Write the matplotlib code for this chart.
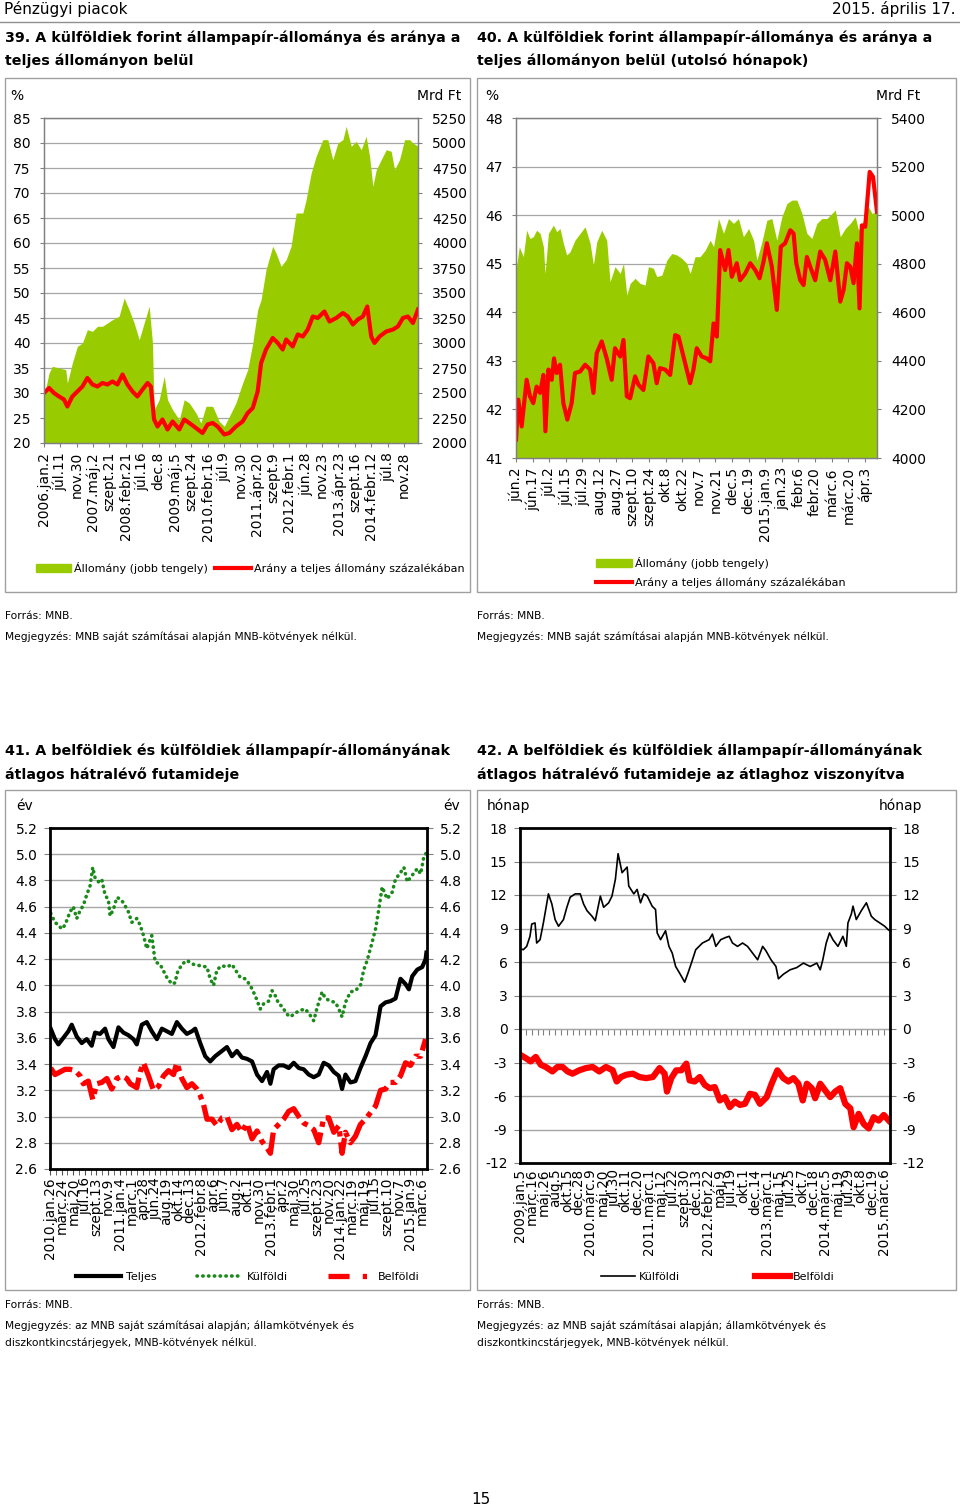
import numpy as np
import matplotlib
matplotlib.use("Agg")
import matplotlib.pyplot as plt
from matplotlib.patches import Rectangle, Patch
from matplotlib.lines import Line2D

plt.rcParams['font.family'] = ['DejaVu Sans']
plt.rcParams['axes.unicode_minus'] = False

GREEN = '#99cc00'
RED = '#ff0000'
DGREEN = '#1a8a1a'
GRID = '#a6a6a6'
TICK = '#808080'
DOM_DASH = (0, (5, 1.1, 1, 1.1))

# ---- chart 39: stock (Mrd Ft, right axis) and share (%, left axis), 2006-2015
labels39 = ['2006.jan.2', 'júl.11', 'nov.30', '2007.máj.2', 'szept.21', '2008.febr.21',
            'júl.16', 'dec.8', '2009.máj.5', 'szept.24', '2010.febr.16', 'júl.9', 'nov.30',
            '2011.ápr.20', 'szept.9', '2012.febr.1', 'jún.28', 'nov.23', '2013.ápr.23',
            'szept.16', '2014.febr.12', 'júl.8', 'nov.28']
x39_stock = [0, 0.31, 0.51, 0.92, 1.33, 1.43, 1.73, 2.04, 2.35, 2.65, 2.96, 3.27, 3.57, 3.88,
             4.18, 4.59, 4.90, 5.20, 5.51, 5.82, 6.12, 6.43, 6.63, 6.73, 7.04, 7.35, 7.55, 7.86,
             8.27, 8.57, 8.88, 9.29, 9.59, 9.90, 10.31, 10.71, 11.02, 11.33, 11.73, 12.14, 12.45,
             12.76, 13.06, 13.27, 13.57, 13.98, 14.18, 14.49, 14.80, 15.10, 15.41, 15.82, 16.02,
             16.33, 16.63, 17.04, 17.35, 17.65, 17.96, 18.27, 18.47, 18.78, 19.08, 19.39, 19.69,
             19.90, 20.10, 20.31, 20.61, 20.92, 21.22, 21.43, 21.73, 22.04, 22.35, 22.55, 22.86]
stock39 = [2467, 2700, 2767, 2750, 2733, 2600, 2800, 2967, 3000, 3133, 3117, 3167, 3167, 3200,
           3233, 3267, 3450, 3333, 3200, 3033, 3200, 3367, 3000, 2333, 2433, 2667, 2433, 2333,
           2233, 2433, 2400, 2300, 2200, 2367, 2367, 2217, 2167, 2267, 2400, 2600, 2733,
           3000, 3333, 3433, 3733, 3967, 3900, 3767, 3833, 3967, 4300, 4300, 4433,
           4700, 4867, 5033, 5033, 4833, 5000, 5033, 5167, 4967, 5017, 4933, 5067,
           4867, 4567, 4733, 4833, 4933, 4917, 4733, 4833, 5033, 5033, 5000, 4967]
x39_share = [0, 0.31, 0.61, 0.92, 1.22, 1.43, 1.73, 2.04, 2.35, 2.65, 2.96, 3.27, 3.57, 3.88,
             4.18, 4.49, 4.80, 5.10, 5.41, 5.71, 6.02, 6.33, 6.53, 6.73, 6.94, 7.24, 7.55, 7.86,
             8.27, 8.57, 8.88, 9.29, 9.69, 10.00, 10.31, 10.61, 11.02, 11.33, 11.73, 12.14, 12.45,
             12.76, 13.06, 13.27, 13.57, 13.98, 14.29, 14.59, 14.80, 15.20, 15.51, 15.82, 16.12,
             16.43, 16.73, 17.14, 17.45, 17.86, 18.27, 18.57, 18.88, 19.18, 19.49, 19.76, 20.00,
             20.20, 20.51, 20.92, 21.33, 21.63, 21.94, 22.24, 22.55, 22.86]
share39 = [30.0, 31.0, 30.0, 29.3, 28.7, 27.3, 29.3, 30.3, 31.3, 33.0, 31.7, 31.3, 32.0, 31.7,
           32.3, 31.7, 33.7, 31.7, 30.3, 29.3, 30.7, 32.0, 31.3, 24.7, 23.3, 24.7, 22.7, 24.3,
           22.7, 24.7, 24.0, 23.0, 22.0, 23.7, 24.0, 23.3, 21.7, 22.0, 23.3, 24.3, 26.0,
           27.0, 30.3, 36.0, 38.7, 41.0, 40.0, 38.7, 40.7, 39.3, 41.7, 41.3, 42.7,
           45.3, 45.0, 46.3, 44.3, 45.0, 46.0, 45.3, 43.7, 44.7, 45.3, 47.3, 41.3,
           40.0, 41.3, 42.3, 42.7, 43.3, 45.0, 45.3, 44.0, 46.7]

# ---- chart 40: last months, 2014 jun - 2015 apr
labels40 = ['jún.2', 'jún.17', 'júl.2', 'júl.15', 'júl.29', 'aug.12', 'aug.27', 'szept.10',
            'szept.24', 'okt.8', 'okt.22', 'nov.7', 'nov.21', 'dec.5', 'dec.19', '2015.jan.9',
            'jan.23', 'febr.6', 'febr.20', 'márc.6', 'márc.20', 'ápr.3']
x40_stock = [0, 0.20, 0.44, 0.64, 0.84, 1.04, 1.24, 1.45, 1.65, 1.75, 1.95, 2.25, 2.45, 2.65,
             2.85, 3.05, 3.25, 3.55, 3.86, 4.16, 4.46, 4.66, 4.86, 5.16, 5.46, 5.66, 5.96, 6.27,
             6.47, 6.67, 6.87, 7.17, 7.47, 7.77, 7.97, 8.27, 8.47, 8.78, 9.08, 9.38, 9.68, 9.98,
             10.28, 10.48, 10.78, 11.08, 11.39, 11.69, 11.89, 12.19, 12.49, 12.79, 13.09, 13.39,
             13.69, 14.00, 14.30, 14.50, 14.80, 15.10, 15.40, 15.70, 16.00, 16.31, 16.61, 16.91,
             17.21, 17.51, 17.81, 18.11, 18.41, 18.71, 18.92, 19.22, 19.52, 19.82, 20.12, 20.42,
             20.62, 20.92, 21.22, 21.43, 21.73]
stock40 = [4774, 4870, 4829, 4938, 4904, 4911, 4938, 4925, 4870, 4760, 4925, 4959, 4932, 4945,
           4884, 4836, 4849, 4897, 4925, 4952, 4884, 4795, 4890, 4938, 4897, 4726, 4788, 4760,
           4801, 4671, 4719, 4740, 4719, 4712, 4788, 4781, 4747, 4753, 4815, 4842, 4836, 4822,
           4801, 4760, 4829, 4829, 4856, 4897, 4870, 4986, 4925, 4986, 4966, 4986,
           4911, 4945, 4897, 4815, 4890, 4979, 4986, 4897, 4993, 5048, 5062, 5062,
           5007, 4925, 4904, 4966, 4986, 4986, 5000, 5021, 4911, 4945, 4966, 4993,
           4938, 4979, 5034, 5007, 5014]
x40_share = [0, 0.14, 0.34, 0.64, 0.84, 1.04, 1.24, 1.45, 1.65, 1.77, 1.95, 2.15, 2.29, 2.45,
             2.65, 2.85, 3.09, 3.35, 3.55, 3.86, 4.16, 4.46, 4.66, 4.86, 5.16, 5.46, 5.76, 5.96,
             6.27, 6.47, 6.67, 6.87, 7.17, 7.37, 7.67, 7.97, 8.27, 8.47, 8.67, 8.98, 9.28, 9.58,
             9.78, 10.08, 10.48, 10.68, 10.88, 11.18, 11.49, 11.69, 11.89, 12.09, 12.29, 12.59,
             12.79, 12.99, 13.29, 13.49, 13.80, 14.10, 14.40, 14.66, 14.90, 15.10, 15.40, 15.70,
             15.94, 16.20, 16.51, 16.71, 16.87, 17.11, 17.31, 17.51, 17.71, 18.01, 18.31, 18.61,
             18.92, 19.22, 19.52, 19.72, 19.92, 20.12, 20.32, 20.52, 20.68, 20.82, 21.02, 21.29,
             21.49, 21.73]
share40 = [41.38, 42.20, 41.65, 42.61, 42.27, 42.13, 42.47, 42.34, 42.71, 41.55, 42.82, 42.61,
           43.05, 42.75, 42.92, 42.13, 41.79, 42.13, 42.75, 42.78, 42.92, 42.82, 42.34, 43.16,
           43.40, 43.05, 42.61, 43.26, 43.09, 43.43, 42.27, 42.23, 42.68, 42.51, 42.40, 43.09,
           42.95, 42.54, 42.85, 42.82, 42.71, 43.53, 43.50, 43.09, 42.54, 42.82, 43.26, 43.09,
           43.05, 42.99, 43.77, 43.50, 45.28, 44.87, 45.28, 44.73, 45.01, 44.66, 44.80, 45.01,
           44.87, 44.70, 45.04, 45.42, 44.94, 44.05, 45.35, 45.42, 45.69, 45.62, 45.01, 44.66,
           44.56, 45.14, 44.94, 44.66, 45.25, 45.08, 44.66, 45.25, 44.22, 44.46, 45.01, 44.94,
           44.60, 45.42, 44.08, 45.79, 45.76, 46.89, 46.79, 46.07]

# ---- chart 41: average remaining maturity (years), 2010-2015
labels41 = ['2010.jan.26', 'márc.24', 'máj.20', 'júl.16', 'szept.13', 'nov.9', '2011.jan.4',
            'márc.1', 'ápr.28', 'jún.24', 'aug.19', 'okt.14', 'dec.13', '2012.febr.8', 'ápr.6',
            'jún.7', 'aug.2', 'okt.1', 'nov.30', '2013.febr.1', 'ápr.2', 'máj.30', 'júl.25',
            'szept.23', 'nov.20', '2014.jan.22', 'márc.19', 'máj.19', 'júl.15', 'szept.10',
            'nov.7', '2015.jan.9', 'márc.6']
x41_total = [0.06, 0.43, 0.72, 1.15, 1.58, 1.87, 2.30, 2.73, 3.16, 3.59, 3.88, 4.31, 4.74, 5.03,
             5.46, 5.89, 6.32, 6.75, 7.18, 7.47, 7.90, 8.33, 8.76, 9.20, 9.63, 10.06, 10.49,
             10.92, 11.35, 11.78, 12.21, 12.50, 12.93, 13.36, 13.79, 14.22, 14.80, 15.23, 15.66,
             16.09, 16.52, 16.95, 17.39, 17.82, 18.25, 18.68, 18.97, 19.25, 19.68, 20.11, 20.55,
             20.98, 21.41, 21.84, 22.27, 22.70, 23.13, 23.56, 23.99, 24.43, 24.86, 25.14, 25.43,
             25.86, 26.29, 26.72, 27.16, 27.59, 28.02, 28.45, 28.88, 29.31, 29.74, 30.17, 30.60,
             30.89, 31.18, 31.61, 32.04, 32.33, 32.40]
total41 = [3.67, 3.59, 3.55, 3.60, 3.65, 3.70, 3.61, 3.56, 3.59, 3.54, 3.64, 3.63, 3.67, 3.59,
           3.53, 3.68, 3.64, 3.62, 3.59, 3.55, 3.70, 3.72, 3.65, 3.59, 3.67, 3.65, 3.63,
           3.72, 3.67, 3.63, 3.65, 3.67, 3.56, 3.46, 3.42, 3.46, 3.50, 3.53, 3.46,
           3.50, 3.45, 3.44, 3.42, 3.32, 3.27, 3.34, 3.25, 3.36, 3.39, 3.39, 3.37,
           3.41, 3.37, 3.36, 3.32, 3.30, 3.32, 3.41, 3.39, 3.34, 3.31, 3.21, 3.32,
           3.26, 3.27, 3.37, 3.46, 3.56, 3.62, 3.84, 3.87, 3.88, 3.90, 4.05, 4.01,
           3.97, 4.07, 4.12, 4.14, 4.20, 4.25]
x41_foreign = [0.06, 0.43, 0.72, 1.01, 1.29, 1.72, 2.01, 2.30, 2.59, 2.87, 3.16, 3.45, 3.68,
               3.88, 4.17, 4.45, 4.74, 5.03, 5.17, 5.46, 5.75, 6.03, 6.32, 6.75, 7.04, 7.47,
               7.76, 8.05, 8.33, 8.76, 9.05, 9.48, 10.06, 10.49, 10.78, 10.92, 11.35, 11.78,
               12.36, 12.93, 13.51, 13.79, 14.08, 14.37, 14.80, 15.23, 15.66, 16.09, 16.38,
               16.81, 17.24, 17.67, 18.10, 18.39, 18.82, 19.11, 19.40, 19.68, 19.97, 20.40,
               20.69, 21.12, 21.55, 21.98, 22.41, 22.70, 22.99, 23.42, 23.71, 24.14, 24.57,
               24.86, 25.14, 25.43, 25.86, 26.29, 26.72, 27.01, 27.30, 27.73, 28.02, 28.30,
               28.59, 29.02, 29.45, 29.74, 30.17, 30.46, 30.75, 31.18, 31.61, 31.90, 32.18, 32.39]
foreign41 = [4.55, 4.48, 4.46, 4.43, 4.46, 4.56, 4.60, 4.51, 4.57, 4.61, 4.69, 4.76, 4.90,
             4.82, 4.79, 4.81, 4.69, 4.65, 4.53, 4.58, 4.67, 4.66, 4.63, 4.56, 4.48, 4.51,
             4.46, 4.38, 4.28, 4.38, 4.18, 4.16, 4.06, 4.01, 4.02, 4.09, 4.16, 4.19,
             4.16, 4.15, 4.14, 4.05, 4.00, 4.12, 4.15, 4.14, 4.16, 4.10, 4.06,
             4.05, 4.00, 3.92, 3.82, 3.86, 3.88, 3.96, 3.92, 3.86, 3.84, 3.78,
             3.76, 3.79, 3.81, 3.82, 3.77, 3.73, 3.83, 3.95, 3.90, 3.88, 3.87,
             3.82, 3.76, 3.87, 3.95, 3.96, 4.00, 4.12, 4.19, 4.33, 4.43, 4.58,
             4.75, 4.66, 4.71, 4.81, 4.86, 4.90, 4.79, 4.84, 4.89, 4.85, 4.98, 5.01]
x41_domestic = [0.06, 0.43, 0.86, 1.29, 1.72, 2.16, 2.59, 2.87, 3.30, 3.68, 4.02, 4.45, 4.89,
                5.32, 5.75, 6.18, 6.61, 6.90, 7.47, 7.76, 8.05, 8.48, 8.91, 9.34, 9.77, 10.20,
                10.63, 10.92, 11.35, 11.78, 12.21, 12.64, 12.93, 13.22, 13.51, 13.94, 14.37,
                14.80, 15.23, 15.66, 16.09, 16.52, 16.95, 17.39, 17.82, 18.25, 18.68, 18.97,
                19.25, 19.68, 20.11, 20.55, 20.98, 21.41, 21.84, 22.27, 22.70, 23.13, 23.56,
                23.99, 24.43, 24.86, 25.14, 25.43, 25.86, 26.29, 26.72, 27.16, 27.59, 28.02,
                28.45, 28.88, 29.31, 29.74, 30.17, 30.60, 31.03, 31.47, 31.90, 32.33]
domestic41 = [3.37, 3.32, 3.34, 3.36, 3.36, 3.35, 3.31, 3.25, 3.27, 3.13, 3.25, 3.26, 3.29,
              3.21, 3.29, 3.31, 3.29, 3.25, 3.22, 3.34, 3.41, 3.31, 3.20, 3.23, 3.31, 3.35,
              3.32, 3.41, 3.29, 3.22, 3.25, 3.21, 3.16, 3.09, 2.98, 2.98, 2.93,
              2.99, 3.00, 2.90, 2.94, 2.88, 2.95, 2.83, 2.89, 2.81, 2.76, 2.72,
              2.90, 2.94, 2.98, 3.04, 3.06, 3.00, 2.95, 2.93, 2.90, 2.80, 2.99,
              2.99, 2.88, 2.93, 2.72, 2.88, 2.80, 2.85, 2.94, 2.98, 3.03, 3.08,
              3.20, 3.21, 3.26, 3.26, 3.31, 3.41, 3.39, 3.46, 3.46, 3.59]

# ---- chart 42: deviation from average (months), 2009-2015
labels42 = ['2009.jan.5', 'márc.16', 'máj.26', 'aug.5', 'okt.15', 'dec.28', '2010.márc.9',
            'máj.20', 'júl.30', 'okt.11', 'dec.20', '2011.márc.1', 'máj.12', 'júl.22',
            'szept.30', 'dec.13', '2012.febr.22', 'máj.9', 'júl.19', 'okt.1', 'dec.14',
            '2013.márc.1', 'máj.15', 'júl.25', 'okt.7', 'dec.18', '2014.márc.5', 'máj.19',
            'júl.29', 'okt.8', 'dec.19', '2015.márc.6']
x42_foreign = [0.00, 0.28, 0.57, 0.85, 1.00, 1.28, 1.42, 1.71, 1.99, 2.14, 2.42, 2.71, 2.99,
               3.28, 3.70, 3.99, 4.27, 4.70, 5.13, 5.41, 5.70, 6.13, 6.41, 6.84, 7.12, 7.55,
               7.83, 8.12, 8.35, 8.69, 9.12, 9.26, 9.69, 9.97, 10.26, 10.54, 10.83, 11.25,
               11.54, 11.68, 11.97, 12.39, 12.68, 12.96, 13.25, 13.59, 14.02, 14.30, 14.59,
               14.96, 15.53, 16.10, 16.38, 16.67, 17.09, 17.52, 17.81, 18.09, 18.52, 18.95,
               19.37, 19.80, 20.23, 20.66, 20.94, 21.37, 21.79, 22.00, 22.42, 22.99, 23.56,
               24.13, 24.70, 25.27, 25.56, 25.78, 26.07, 26.35, 26.64, 27.07, 27.49, 27.78,
               27.92, 28.21, 28.35, 28.63, 29.06, 29.49, 29.91, 30.20, 30.63, 31.05, 31.34, 31.48]
foreign42 = [7.2, 7.1, 7.4, 8.3, 9.4, 9.5, 7.7, 8.0, 9.5, 10.4, 12.1, 11.2, 9.8,
             9.2, 9.8, 10.9, 11.8, 12.1, 12.1, 11.2, 10.6, 10.1, 9.7, 11.9, 10.9, 11.3,
             11.9, 13.4, 15.7, 14.0, 14.5, 12.8, 12.1, 12.5, 11.3, 12.1, 11.9, 11.0,
             10.7, 8.6, 8.0, 8.8, 7.4, 6.8, 5.6, 5.0, 4.2, 5.0, 5.9,
             7.1, 7.7, 8.0, 8.5, 7.4, 8.0, 8.2, 8.3, 7.7, 7.4, 7.7,
             7.4, 6.8, 6.2, 7.4, 7.0, 6.2, 5.6, 4.5, 4.9, 5.3, 5.5,
             5.9, 5.6, 5.9, 5.3, 6.2, 7.7, 8.6, 8.0, 7.4, 8.3, 7.4,
             9.5, 10.3, 11.0, 9.8, 10.6, 11.3, 10.1, 9.8, 9.5, 9.2, 8.9, 8.8]
x42_domestic = [0.00, 0.48, 0.91, 1.34, 1.77, 2.19, 2.76, 3.19, 3.62, 4.05, 4.47, 5.04, 5.61,
                6.18, 6.75, 7.32, 7.89, 8.23, 8.60, 9.03, 9.60, 10.17, 10.74, 11.31, 11.88,
                12.31, 12.51, 12.88, 13.30, 13.73, 14.16, 14.44, 14.87, 15.30, 15.73, 16.15,
                16.58, 17.01, 17.44, 17.86, 18.29, 18.72, 19.15, 19.57, 20.00, 20.43, 21.00,
                21.42, 21.91, 22.42, 22.85, 23.28, 23.70, 24.07, 24.42, 24.84, 25.13, 25.56,
                25.98, 26.41, 26.84, 27.26, 27.69, 28.12, 28.40, 28.83, 29.26, 29.69, 30.11,
                30.54, 30.97, 31.40]
domestic42 = [-2.3, -2.6, -2.9, -2.5, -3.2, -3.4, -3.8, -3.4, -3.4, -3.8, -4.0, -3.7, -3.5,
              -3.4, -3.8, -3.4, -3.7, -4.7, -4.3, -4.1, -4.0, -4.3, -4.4, -4.3, -3.5,
              -4.0, -5.6, -4.4, -3.7, -3.7, -3.1, -4.6, -4.7, -4.3, -5.0, -5.3,
              -5.2, -6.4, -6.1, -7.0, -6.5, -6.8, -6.7, -5.8, -5.9, -6.7, -6.1,
              -4.9, -3.7, -4.4, -4.7, -4.4, -4.9, -6.4, -4.9, -5.3, -6.2, -4.9,
              -5.5, -6.1, -5.6, -5.3, -6.7, -7.1, -8.8, -7.6, -8.5, -8.9, -7.9,
              -8.2, -7.7, -8.2]

W, H = 960, 1510
fig = plt.figure(figsize=(W / 100, H / 100), dpi=100)


def axes_px(l, t, r, b):
    return fig.add_axes([l / W, 1 - b / H, (r - l) / W, (b - t) / H])


def text_px(x, y, s, **kw):
    kw.setdefault('va', 'center')
    fig.text(x / W, 1 - y / H, s, **kw)


def frame_px(l, t, r, b):
    fig.add_artist(Rectangle((l / W, 1 - b / H), (r - l) / W, (b - t) / H,
                             transform=fig.transFigure, fill=False, ec='#a0a0a0', lw=1))


# header
text_px(4, 9, 'Pénzügyi piacok', fontsize=11)
text_px(956, 9, '2015. április 17.', fontsize=11, ha='right')
fig.add_artist(Line2D([0, 1], [1 - 22 / H] * 2, transform=fig.transFigure, color='#909090', lw=1))

# titles
tkw = dict(fontsize=10.3, fontweight='bold')
text_px(5, 38, '39. A külföldiek forint állampapír-állománya és aránya a', **tkw)
text_px(5, 61, 'teljes állományon belül', **tkw)
text_px(477, 38, '40. A külföldiek forint állampapír-állománya és aránya a', **tkw)
text_px(477, 61, 'teljes állományon belül (utolsó hónapok)', **tkw)
text_px(5, 751, '41. A belföldiek és külföldiek állampapír-állományának', **tkw)
text_px(5, 775, 'átlagos hátralévő futamideje', **tkw)
text_px(477, 751, '42. A belföldiek és külföldiek állampapír-állományának', **tkw)
text_px(477, 775, 'átlagos hátralévő futamideje az átlaghoz viszonyítva', **tkw)

frame_px(5, 78, 470, 592)
frame_px(477, 78, 956, 592)
frame_px(5, 790, 470, 1290)
frame_px(477, 790, 956, 1290)

# footnotes
fkw = dict(fontsize=7.7)
for x0 in (5, 477):
    text_px(x0, 616, 'Forrás: MNB.', **fkw)
    text_px(x0, 637, 'Megjegyzés: MNB saját számításai alapján MNB-kötvények nélkül.', **fkw)
    text_px(x0, 1305, 'Forrás: MNB.', **fkw)
    text_px(x0, 1326, 'Megjegyzés: az MNB saját számításai alapján; államkötvények és', **fkw)
    text_px(x0, 1343, 'diszkontkincstárjegyek, MNB-kötvények nélkül.', **fkw)
text_px(481, 1500, '15', fontsize=11, ha='center')


def dual_chart(box, x_s, stock, x_r, share, labels, xmax, ylim, yticks, y2lim, y2ticks):
    ax = axes_px(*box)
    ax2 = ax.twinx()
    ax2.fill_between(x_s, y2lim[0], stock, color=GREEN, lw=0)
    ax2.set_ylim(*y2lim)
    ax2.set_yticks(y2ticks)
    ax2.grid(axis='y', color=GRID, lw=0.9)
    ax2.set_axisbelow(True)
    ax.plot(x_r, share, color=RED, lw=3, solid_joinstyle='round')
    ax.set_ylim(*ylim)
    ax.set_yticks(yticks)
    ax.set_xlim(0, xmax)
    ax.set_xticks(range(len(labels)))
    ax.set_xticklabels(labels, rotation=90)
    ax.set_zorder(ax2.get_zorder() + 1)
    ax.patch.set_visible(False)
    for a in (ax, ax2):
        for s in a.spines.values():
            s.set_color(TICK)
            s.set_linewidth(0.9)
        a.tick_params(colors=TICK, labelcolor='black', labelsize=10, length=3)
    ax.tick_params(axis='y', pad=6.5)
    ax2.tick_params(axis='y', pad=7)
    return ax, ax2


# chart 39
dual_chart((44, 118, 418, 443), x39_stock, stock39, x39_share, share39, labels39, 22.86,
           (20, 85), range(20, 86, 5), (2000, 5250), range(2000, 5251, 250))
text_px(17, 96, '%', fontsize=10, ha='center')
text_px(461, 96, 'Mrd Ft', fontsize=10, ha='right')
fig.legend([Patch(color=GREEN), Line2D([], [], color=RED, lw=3)],
           ['Állomány (jobb tengely)', 'Arány a teljes állomány százalékában'],
           loc='center', bbox_to_anchor=(250 / W, 1 - 568 / H), ncol=2, frameon=False,
           fontsize=8, handlelength=3.2, handletextpad=0.3, columnspacing=0.6)

# chart 40
dual_chart((516, 118, 877, 458), x40_stock, stock40, x40_share, share40, labels40, 21.73,
           (41, 48), range(41, 49), (4000, 5400), range(4000, 5401, 200))
text_px(492, 96, '%', fontsize=10, ha='center')
text_px(920, 96, 'Mrd Ft', fontsize=10, ha='right')
fig.legend([Patch(color=GREEN), Line2D([], [], color=RED, lw=3)],
           ['Állomány (jobb tengely)', 'Arány a teljes állomány százalékában'],
           loc='upper left', bbox_to_anchor=(586 / W, 1 - 547 / H), ncol=1, frameon=False,
           fontsize=8, handlelength=3.2, handletextpad=0.3, labelspacing=0.75)


def box_chart(box, ylim, yticks, fmt, xmax, labels):
    ax = axes_px(*box)
    ax.set_ylim(*ylim)
    ax.set_yticks(yticks)
    ax.set_yticklabels([fmt.format(v) for v in yticks])
    ax.set_xlim(0, xmax)
    ax.grid(axis='y', color=GRID, lw=1)
    ax.set_axisbelow(True)
    for s in ax.spines.values():
        s.set_color('black')
        s.set_linewidth(2)
    ax.tick_params(axis='y', right=True, labelright=True, colors=TICK, labelcolor='black',
                   labelsize=10, length=4, pad=5)
    ax.set_xticks(range(len(labels)))
    ax.set_xticklabels(labels, rotation=90)
    return ax


# chart 41
ax41 = box_chart((50, 828, 427, 1169), (2.6, 5.2), np.round(np.arange(2.6, 5.21, 0.2), 1),
                 '{:.1f}', 32.45, labels41)
ax41.set_xticks(np.arange(0.5, 32.45, 1), minor=True)
ax41.tick_params(axis='x', which='both', colors='#505050', labelcolor='black', labelsize=9.8,
                 length=4, pad=2)
ax41.plot(x41_foreign, foreign41, color=DGREEN, lw=2.6, linestyle=(0, (0.1, 1.5)),
          dash_capstyle='round')
ax41.plot(x41_domestic, domestic41, color=RED, lw=3.8, linestyle=DOM_DASH)
ax41.plot(x41_total, total41, color='black', lw=3)
text_px(25, 806, 'év', fontsize=10, ha='center')
text_px(452, 806, 'év', fontsize=10, ha='center')
fig.legend([Line2D([], [], color='black', lw=3),
            Line2D([], [], color=DGREEN, lw=2.6, linestyle=(0, (0.1, 1.5)), dash_capstyle='round'),
            Line2D([], [], color=RED, lw=3.8, linestyle=(0, (4, 2.5, 0.8, 2.5)))],
           ['Teljes', 'Külföldi', 'Belföldi'],
           loc='center', bbox_to_anchor=(248 / W, 1 - 1277 / H), ncol=3, frameon=False,
           fontsize=8, handlelength=4, handletextpad=0.5, columnspacing=3.6)

# chart 42
ax42 = box_chart((520, 828, 890, 1163), (-12, 18), list(range(-12, 19, 3)), '{:d}', 31.5,
                 labels42)
ax42.tick_params(axis='x', length=0, labelsize=9.8, pad=4)
zero = ax42.secondary_xaxis(0.4)
zero.set_xticks(np.arange(0, 31.51, 0.5))
zero.set_xticklabels([])
zero.tick_params(axis='x', colors=TICK, length=4, direction='out')
zero.spines['bottom'].set_color(TICK)
ax42.plot(x42_domestic, domestic42, color=RED, lw=4.5, solid_joinstyle='round')
ax42.plot(x42_foreign, foreign42, color='black', lw=1.2)
text_px(487, 806, 'hónap', fontsize=10, ha='left')
text_px(922, 806, 'hónap', fontsize=10, ha='right')
fig.legend([Line2D([], [], color='black', lw=1.2), Line2D([], [], color=RED, lw=4.5)],
           ['Külföldi', 'Belföldi'],
           loc='center', bbox_to_anchor=(718 / W, 1 - 1277 / H), ncol=2, frameon=False,
           fontsize=8, handlelength=3.1, handletextpad=0.3, columnspacing=6.8)

fig.savefig('out.png', dpi=100)
